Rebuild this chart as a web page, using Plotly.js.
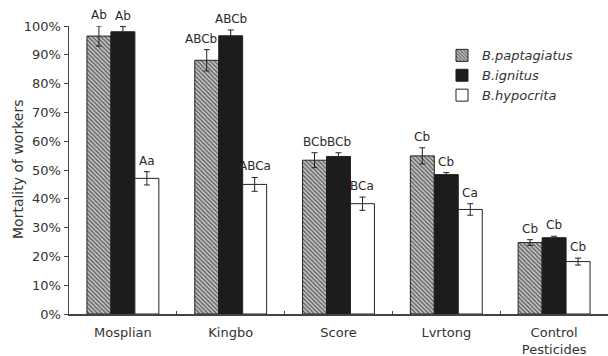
<!DOCTYPE html>
<html><head><meta charset="utf-8">
<script src="https://cdn.plot.ly/plotly-3.0.1.min.js"></script>
<style>html,body{margin:0;padding:0;background:#fff}#c{width:608px;height:356px}</style>
</head><body><div id="c"></div>
<script>
const categories = ["Mosplian", "Kingbo", "Score", "Lvrtong", "Control<br>Pesticides"];
const seriesNames = ["B.paptagiatus", "B.ignitus", "B.hypocrita"];
const paptagiatus = [96.5, 88.1, 53.4, 54.9, 24.8];
const paptagiatusErr = [3.5, 3.7, 2.6, 2.8, 1.0];
const ignitus = [98.0, 96.6, 54.7, 48.4, 26.5];
const ignitusErr = [1.8, 2.0, 1.3, 0.7, 0.5];
const hypocrita = [47.1, 45.0, 38.3, 36.3, 18.2];
const hypocritaErr = [2.3, 2.4, 2.3, 2.0, 1.2];
const paptagiatusLabels = ["Ab", "ABCb", "BCb", "Cb", "Cb"];
const ignitusLabels = ["Ab", "ABCb", "BCb", "Cb", "Cb"];
const hypocritaLabels = ["Aa", "ABCa", "BCa", "Ca", "Cb"];

const FONT = "DejaVu Sans, Liberation Sans, Arial, sans-serif";
const barLine = {color: "#222", width: 1};
const errStyle = (arr) => ({type: "data", array: arr, visible: true, color: "#222", thickness: 1, width: 3});

const traces = [
  {type: "bar", name: seriesNames[0], x: categories, y: paptagiatus, error_y: errStyle(paptagiatusErr),
   marker: {color: "#b4b4b4", line: barLine, pattern: {shape: "\\", fgcolor: "#555", bgcolor: "#c4c4c4", size: 3, solidity: 0.4}}},
  {type: "bar", name: seriesNames[1], x: categories, y: ignitus, error_y: errStyle(ignitusErr),
   marker: {color: "#1c1c1c", line: barLine}},
  {type: "bar", name: seriesNames[2], x: categories, y: hypocrita, error_y: errStyle(hypocritaErr),
   marker: {color: "#ffffff", line: barLine}}
];

const bw = (1 - 0.333) / 3;
const groups = [[paptagiatus, paptagiatusErr, paptagiatusLabels, -bw], [ignitus, ignitusErr, ignitusLabels, 0], [hypocrita, hypocritaErr, hypocritaLabels, bw]];
const annotations = [];
groups.forEach(([vals, errs, labs, off], g) => {
  vals.forEach((v, i) => {
    // nudge a left label away from a taller neighbouring bar
    const nudge = (g === 0 && groups[1][0][i] - v > 5) ? -6 : 0;
    annotations.push({x: i + off, y: v + errs[i], xref: "x", yref: "y", text: labs[i], showarrow: false,
      yanchor: "bottom", yshift: 2, xshift: nudge, font: {family: FONT, size: 12, color: "#2a2a2a"}});
  });
});
annotations.push({x: -0.0946, y: 0.5, xref: "paper", yref: "paper", text: "Mortality of workers", textangle: -90,
  showarrow: false, xanchor: "center", yanchor: "middle", font: {family: FONT, size: 14, color: "#333"}});

const layout = {
  width: 608, height: 356,
  margin: {l: 69, r: 0, t: 26, b: 42, pad: 0},
  paper_bgcolor: "#fff", plot_bgcolor: "#fff",
  barmode: "group", bargap: 0.333, bargroupgap: 0,
  font: {family: FONT, size: 13, color: "#333"},
  showlegend: true,
  legend: {x: 0.692, y: 0.95, xanchor: "left", yanchor: "top", bgcolor: "rgba(0,0,0,0)",
    font: {family: FONT, size: 13, color: "#333", style: "italic"}, itemwidth: 30, tracegroupgap: 0},
  xaxis: {type: "category", showline: true, linecolor: "#444", linewidth: 1.5, ticks: "inside", ticklen: 3,
    tickcolor: "#444", tickson: "boundaries", showgrid: false, zeroline: false, ticklabelstandoff: 6,
    tickfont: {family: FONT, size: 13, color: "#333"}, automargin: false},
  yaxis: {range: [0, 100], dtick: 10, ticksuffix: "%", showline: true, linecolor: "#444", linewidth: 1.5,
    ticks: "outside", ticklen: 4, tickcolor: "#444", showgrid: false, zeroline: false,
    tickfont: {family: FONT, size: 13, color: "#333"}, automargin: false},
  annotations: annotations
};

Plotly.newPlot("c", traces, layout, {displayModeBar: false, staticPlot: true});
</script></body></html>
